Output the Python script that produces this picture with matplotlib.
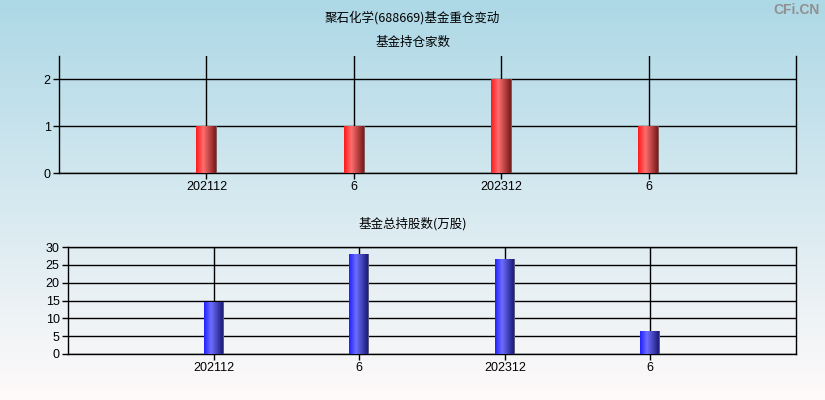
import matplotlib
matplotlib.use('Agg')
import matplotlib.pyplot as plt
import numpy as np
from matplotlib.colors import LinearSegmentedColormap

plt.rcParams['font.family'] = ['Noto Sans CJK SC', 'DejaVu Sans']

# 数据
periods = ['202112', '6', '202312', '6']
fund_counts = [1, 1, 2, 1]
fund_shares = [14.3, 27.8, 26.6, 6.2]

title_main = '聚石化学(688669)基金重仓变动'
title_top = '基金持仓家数'
title_bottom = '基金总持股数(万股)'

fig = plt.figure(figsize=(8.25, 4), dpi=100)

# 背景渐变
bg = fig.add_axes([0, 0, 1, 1], zorder=-10)
bg_cmap = LinearSegmentedColormap.from_list('bg', ['#fffafa', '#add8e6'])
bg.imshow(np.linspace(0, 1, 256).reshape(-1, 1), cmap=bg_cmap, aspect='auto',
          extent=(0, 1, 0, 1), origin='lower')
bg.set_axis_off()

red_cmap = LinearSegmentedColormap.from_list(
    'red', [(0, '#ff1a1a'), (0.35, '#ff6e6e'), (0.95, '#7a1a1a'), (1, '#808080')])
blue_cmap = LinearSegmentedColormap.from_list(
    'blue', [(0, '#2020ff'), (0.35, '#6e6eff'), (0.95, '#1a1a7a'), (1, '#808080')])

grad = np.linspace(0, 1, 64).reshape(1, -1)


def draw_panel(ax, values, cmap, ylim, yticks, top_spine):
    x = np.arange(1, len(values) + 1)
    w = 0.137
    ax.set_facecolor('none')
    for xi, v in zip(x, values):
        ax.imshow(grad, cmap=cmap, aspect='auto',
                  extent=(xi - w / 2, xi + w / 2, 0, v), zorder=3)
    ax.set_xlim(0, len(values) + 1)
    ax.set_ylim(*ylim)
    ax.set_xticks(x)
    ax.set_xticklabels(periods, fontfamily='Liberation Sans', fontsize=9)
    ax.set_yticks(yticks)
    ax.set_yticklabels([str(t) for t in yticks], fontfamily='Liberation Sans', fontsize=9)
    ax.grid(True, color='black', linewidth=1, zorder=1)
    ax.set_axisbelow(True)
    for s in ax.spines.values():
        s.set_color('black')
        s.set_linewidth(1)
    ax.spines['top'].set_visible(top_spine)
    ax.tick_params(direction='out', length=4, width=1, colors='black', pad=2)


ax1 = fig.add_axes([0.0715, 0.5675, 0.8933, 0.2925])
draw_panel(ax1, fund_counts, red_cmap, (0, 2.5), [0, 1, 2], False)

ax2 = fig.add_axes([0.0824, 0.115, 0.8824, 0.2675])
draw_panel(ax2, fund_shares, blue_cmap, (0, 30), [0, 5, 10, 15, 20, 25, 30], True)

fig.text(0.5, 0.955, title_main, ha='center', va='center', fontsize=9)
fig.text(0.5, 0.893, title_top, ha='center', va='center', fontsize=9)
fig.text(0.5, 0.44, title_bottom, ha='center', va='center', fontsize=9)
fig.text(0.993, 0.975, 'CFi.CN', ha='right', va='center', fontsize=10,
         color='#909090', fontweight='bold', fontfamily='Liberation Sans')

fig.savefig('out.png', dpi=100)
